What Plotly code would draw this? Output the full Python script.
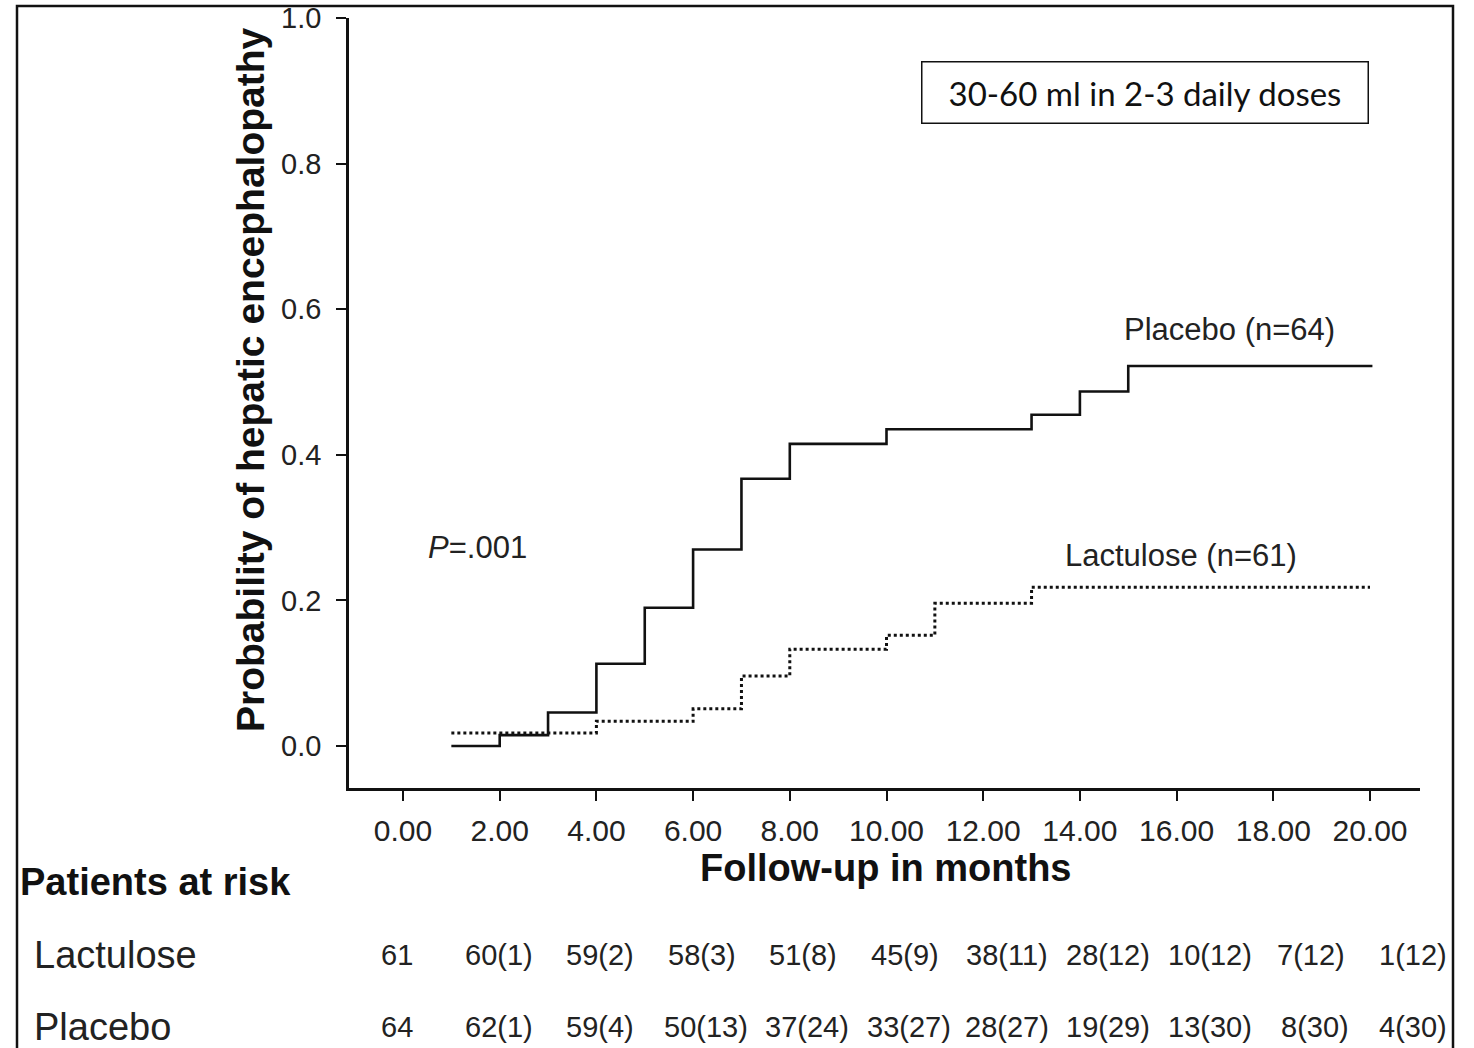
import plotly.graph_objects as go

# ---- data ----
placebo_months = [1, 2, 3, 4, 5, 6, 7, 8, 10, 13, 14, 15, 20.05]
placebo_prob = [0.0, 0.015, 0.046, 0.113, 0.19, 0.27, 0.367, 0.415, 0.435, 0.455, 0.487, 0.522, 0.522]

lactulose_months = [1, 4, 6, 7, 8, 10, 11, 13, 20.0]
lactulose_prob = [0.018, 0.034, 0.051, 0.096, 0.133, 0.152, 0.196, 0.218, 0.218]

x_ticks = [0, 2, 4, 6, 8, 10, 12, 14, 16, 18, 20]
y_ticks = [0.0, 0.2, 0.4, 0.6, 0.8, 1.0]

risk_months = [0, 2, 4, 6, 8, 10, 12, 14, 16, 18, 20]
lactulose_at_risk = ["61", "60(1)", "59(2)", "58(3)", "51(8)", "45(9)", "38(11)", "28(12)", "10(12)", "7(12)", "1(12)"]
placebo_at_risk = ["64", "62(1)", "59(4)", "50(13)", "37(24)", "33(27)", "28(27)", "19(29)", "13(30)", "8(30)", "4(30)"]

# ---- layout constants (page body margin removed via post_script) ----
W, H = 1474, 1048
ML, MT = 349, 18
PLOT_R, PLOT_B = 1420, 788
MR, MB = W - PLOT_R, H - PLOT_B
PW, PH = W - ML - MR, H - MT - MB
FONT = "Liberation Sans, Arial, sans-serif"


def px_x(px):
    return (px - ML) / PW


def px_y(py):
    return (PLOT_B - py) / PH


def label(x, y, text, size, color="#222", xanchor="center", **kw):
    return dict(x=x, y=y, text=text, showarrow=False, xanchor=xanchor, yanchor="middle",
                font=dict(family=kw.pop("family", FONT), size=size, color=color), **kw)


fig = go.Figure()
fig.add_trace(go.Scatter(
    x=placebo_months, y=placebo_prob, mode="lines", line_shape="hv",
    line=dict(color="#111", width=2.6), name="Placebo (n=64)", showlegend=False))
fig.add_trace(go.Scatter(
    x=lactulose_months, y=lactulose_prob, mode="lines", line_shape="hv",
    line=dict(color="#111", width=3, dash="3px,3px"), name="Lactulose (n=61)", showlegend=False))

annotations = []
# in-plot labels
annotations.append(label(0.47, 0.272, "<i>P</i>=.001", 31, xanchor="left", xref="x", yref="y"))
annotations.append(label(17.1, 0.572, "Placebo (n=64)", 31, xref="x", yref="y"))
annotations.append(label(16.1, 0.261, "Lactulose (n=61)", 31, xref="x", yref="y"))
# dosing box
annotations.append(label(px_x(1144.5), px_y(93), "30-60 ml in 2-3 daily doses", 33, color="#111",
                         xref="paper", yref="paper", family="Lato, Carlito, sans-serif",
                         bordercolor="#111", borderwidth=1.5, width=443, height=58, bgcolor="white"))
# axis titles
annotations.append(label(px_x(250), px_y(380), "<b>Probability of hepatic encephalopathy</b>", 39,
                         color="#111", xref="paper", yref="paper", textangle=-90))
annotations.append(label(px_x(885), px_y(868), "<b>Follow-up in months</b>", 38, color="#111",
                         xref="paper", yref="paper"))
# at-risk table
annotations.append(label(px_x(18), px_y(882), "<b>Patients at risk</b>", 38, color="#111",
                         xanchor="left", xref="paper", yref="paper"))
annotations.append(label(px_x(32), px_y(955), "Lactulose", 38, xanchor="left", xref="paper", yref="paper"))
annotations.append(label(px_x(32), px_y(1027), "Placebo", 38, xanchor="left", xref="paper", yref="paper"))
for i, (m, lv, pv) in enumerate(zip(risk_months, lactulose_at_risk, placebo_at_risk)):
    shift = -6 + i * 4.9
    annotations.append(label(m, px_y(955), lv, 29, xref="x", yref="paper", xshift=shift))
    annotations.append(label(m, px_y(1027), pv, 29, xref="x", yref="paper",
                             xshift=shift + (4 if i in (3, 4, 5, 9) else 0)))

shapes = [dict(type="rect", xref="paper", yref="paper",
               x0=px_x(17), x1=px_x(1453), y0=px_y(1080), y1=px_y(6),
               line=dict(color="#111", width=2.5), fillcolor="rgba(0,0,0,0)", layer="below")]

x_left = (349 - 403) / 48.35
x_right = (1420 - 403) / 48.35

fig.update_layout(
    width=W, height=H,
    margin=dict(l=ML, r=MR, t=MT, b=MB),
    plot_bgcolor="white", paper_bgcolor="white",
    annotations=annotations, shapes=shapes,
    xaxis=dict(range=[x_left, x_right], tickvals=x_ticks, tickformat=".2f", automargin=False,
               showline=True, linecolor="#111", linewidth=2.5, ticks="outside", ticklen=10,
               tickwidth=2.2, tickcolor="#111", showgrid=False, zeroline=False,
               ticklabelstandoff=4, ticklabeloverflow="allow",
               tickfont=dict(family=FONT, size=30, color="#222")),
    yaxis=dict(range=[-42 / 728, 1.0], tickvals=y_ticks, tickformat=".1f", automargin=False,
               showline=True, linecolor="#111", linewidth=2.5, ticks="outside", ticklen=10,
               tickwidth=2.2, tickcolor="#111", showgrid=False, zeroline=False,
               ticklabelstandoff=9, ticklabeloverflow="allow",
               tickfont=dict(family=FONT, size=29, color="#222")),
)

fig.write_html("out.html", config={"displayModeBar": False},
               post_script="document.body.style.margin='0';document.body.style.overflow='hidden';")
